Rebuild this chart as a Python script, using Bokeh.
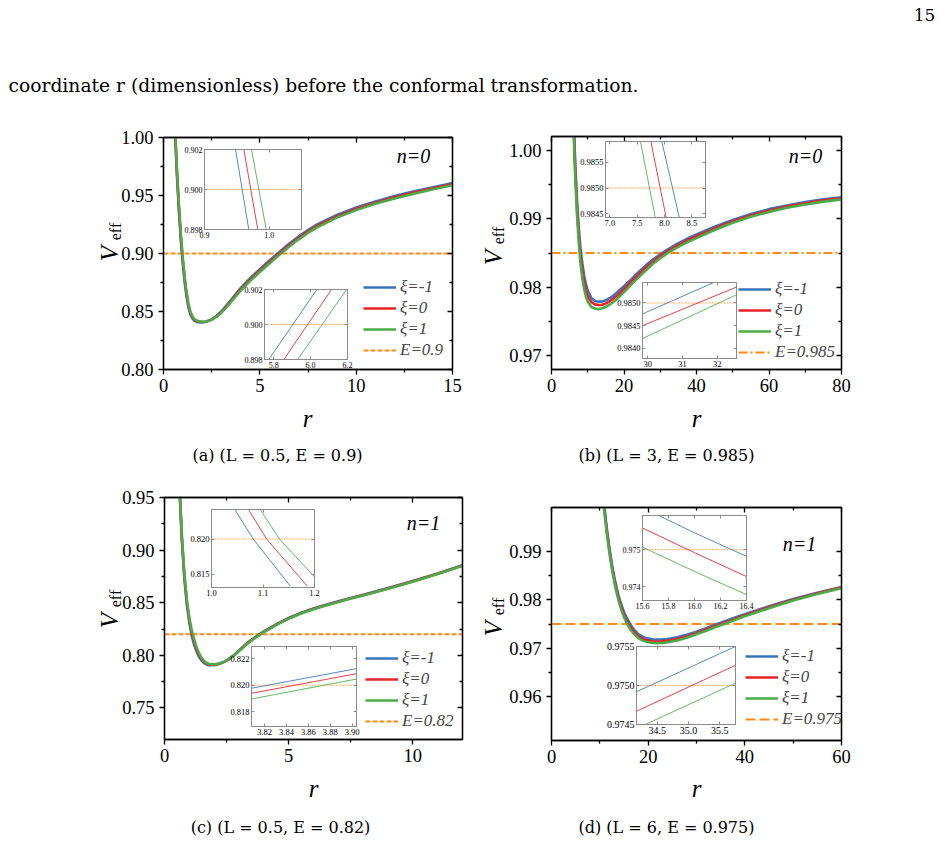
from bokeh.models import (Range1d, FixedTicker, LinearAxis, Legend, LegendItem,
                          Label, Column, PrintfTickFormatter)
from bokeh.plotting import figure
from bokeh.embed import file_html
from bokeh.resources import INLINE
import math

PAGE_W, PAGE_H = 944, 842
SERIF = "Liberation Serif"
BODY_FONT = "DejaVu Serif"
BLUE, RED, GREEN, ORANGE = "#3874b8", "#e8202a", "#4aab48", "#ff8a17"
XI_LABELS = ["ξ=-1", "ξ=0", "ξ=1"]
# every figure in the column shares the same side borders
BORDER_L, BORDER_R = 60, 20

# ---------------- (a) L = 0.5, E = 0.9, n = 0 ----------------
E_a = 0.9
r_a = [0.55, 0.60, 0.70, 0.80, 0.90, 1.00, 1.10, 1.20, 1.30, 1.40, 1.50, 1.60, 1.80,
       2.00, 2.20, 2.50, 2.75, 3.00, 3.25, 3.50, 3.75, 4.00, 4.50, 5.00, 5.50, 6.00,
       6.50, 7.00, 7.50, 8.00, 9.00, 10.0, 11.0, 12.0, 13.0, 14.0, 15.0]
V_a_xi0 = [1.0260, 1.0055, 0.9695, 0.9395, 0.9143, 0.8942, 0.8775, 0.8645, 0.8548, 0.8485,
           0.8450, 0.8428, 0.8412, 0.8409, 0.8412, 0.8430, 0.8457, 0.8494, 0.8541, 0.8590,
           0.8641, 0.8690, 0.8775, 0.8852, 0.8926, 0.8998, 0.9068, 0.9132, 0.9189, 0.9240,
           0.9320, 0.9385, 0.9438, 0.9484, 0.9525, 0.9562, 0.9597]
V_a_xim1 = [1.0230, 1.0025, 0.9666, 0.9367, 0.9116, 0.8916, 0.8751, 0.8624, 0.8531, 0.8472,
            0.8440, 0.8420, 0.8407, 0.8406, 0.8411, 0.8432, 0.8461, 0.8500, 0.8549, 0.8599,
            0.8651, 0.8701, 0.8787, 0.8865, 0.8939, 0.9011, 0.9081, 0.9145, 0.9202, 0.9253,
            0.9332, 0.9397, 0.9449, 0.9495, 0.9536, 0.9572, 0.9607]
V_a_xi1 = [1.0288, 1.0083, 0.9723, 0.9422, 0.9169, 0.8967, 0.8798, 0.8665, 0.8564, 0.8497,
           0.8459, 0.8435, 0.8417, 0.8412, 0.8413, 0.8428, 0.8453, 0.8488, 0.8533, 0.8581,
           0.8631, 0.8679, 0.8764, 0.8840, 0.8914, 0.8986, 0.9056, 0.9120, 0.9177, 0.9228,
           0.9309, 0.9374, 0.9428, 0.9474, 0.9515, 0.9553, 0.9588]
# zoom near the inner crossing of E
a1_V = [0.902, 0.898]
a1_r_xim1 = [0.9480, 0.9685]
a1_r_xi0 = [0.9608, 0.9824]
a1_r_xi1 = [0.9727, 0.9954]
# zoom near the outer crossing of E
a2_V = [0.898, 0.902]
a2_r_xim1 = [5.773, 6.034]
a2_r_xi0 = [5.855, 6.113]
a2_r_xi1 = [5.930, 6.195]

# ---------------- (b) L = 3, E = 0.985, n = 0 ----------------
E_b = 0.985
r_b = [5.8, 6.0, 6.5, 7.0, 7.5, 8.0, 8.5, 9.0, 9.5, 10, 11, 12, 13, 14, 15, 16, 17, 18,
       20, 22, 24, 26, 28, 30, 32, 34, 36, 38, 40, 45, 50, 55, 60, 65, 70, 75, 80]
V_b_xi0 = [1.00900, 1.00540, 0.99770, 0.99195, 0.98770, 0.98453, 0.98240, 0.98075, 0.97955,
           0.97870, 0.97782, 0.97750, 0.97740, 0.97745, 0.97765, 0.97795, 0.97832, 0.97875,
           0.97975, 0.98080, 0.98185, 0.98285, 0.98375, 0.98455, 0.98525, 0.98588, 0.98645,
           0.98697, 0.98745, 0.98860, 0.98962, 0.99048, 0.99120, 0.99178, 0.99227, 0.99268,
           0.99300]
V_b_xim1 = [1.01010, 1.00650, 0.99880, 0.99305, 0.98880, 0.98563, 0.98350, 0.98175, 0.98045,
            0.97950, 0.97842, 0.97800, 0.97790, 0.97790, 0.97810, 0.97840, 0.97877, 0.97920,
            0.98015, 0.98115, 0.98220, 0.98320, 0.98405, 0.98482, 0.98550, 0.98613, 0.98670,
            0.98722, 0.98770, 0.98882, 0.98982, 0.99068, 0.99140, 0.99193, 0.99242, 0.99283,
            0.99312]
V_b_xi1 = [1.00790, 1.00430, 0.99660, 0.99085, 0.98660, 0.98343, 0.98130, 0.97975, 0.97865,
           0.97790, 0.97712, 0.97690, 0.97680, 0.97695, 0.97715, 0.97745, 0.97782, 0.97825,
           0.97930, 0.98040, 0.98145, 0.98245, 0.98342, 0.98425, 0.98498, 0.98561, 0.98618,
           0.98670, 0.98718, 0.98836, 0.98942, 0.99028, 0.99100, 0.99160, 0.99209, 0.99250,
           0.99282]
b1_V = [0.98590, 0.98443]
b1_r_xim1 = [7.95, 8.27]
b1_r_xi0 = [7.75, 8.03]
b1_r_xi1 = [7.56, 7.83]
b2_r = [29.85, 32.55]
b2_V_xim1 = [0.98476, 0.98567]
b2_V_xi0 = [0.98450, 0.98535]
b2_V_xi1 = [0.98422, 0.98518]

# ---------------- (c) L = 0.5, E = 0.82, n = 1 ----------------
E_c = 0.82
r_c = [0.55, 0.60, 0.70, 0.80, 0.90, 1.00, 1.10, 1.20, 1.30, 1.40, 1.50, 1.60, 1.70, 1.80,
       1.90, 2.00, 2.20, 2.40, 2.60, 2.80, 3.00, 3.20, 3.40, 3.60, 3.85, 4.00, 4.50, 5.00,
       5.50, 6.00, 6.50, 7.00, 7.50, 8.00, 9.00, 10.0, 11.0, 12.0]
V_c_xi0 = [0.9880, 0.9615, 0.9115, 0.8755, 0.8505, 0.8335, 0.8209, 0.8121, 0.8052, 0.8000,
           0.7962, 0.7936, 0.7920, 0.7912, 0.7910, 0.7911, 0.7920, 0.7938, 0.7965, 0.8000,
           0.8044, 0.8086, 0.8126, 0.8161, 0.8201, 0.8224, 0.8291, 0.8352, 0.8401, 0.8442,
           0.8477, 0.8510, 0.8542, 0.8572, 0.8636, 0.8703, 0.8775, 0.8854]
V_c_xim1 = [0.9854, 0.9589, 0.9089, 0.8729, 0.8479, 0.8309, 0.8183, 0.8095, 0.8030, 0.7982,
            0.7948, 0.7925, 0.7911, 0.7905, 0.7905, 0.7907, 0.7918, 0.7938, 0.7966, 0.8002,
            0.8047, 0.8090, 0.8130, 0.8165, 0.8205, 0.8228, 0.8295, 0.8356, 0.8405, 0.8446,
            0.8480, 0.8513, 0.8545, 0.8575, 0.8639, 0.8706, 0.8778, 0.8857]
V_c_xi1 = [0.9905, 0.9640, 0.9140, 0.8780, 0.8530, 0.8360, 0.8234, 0.8146, 0.8072, 0.8016,
           0.7974, 0.7945, 0.7927, 0.7917, 0.7914, 0.7914, 0.7921, 0.7938, 0.7964, 0.7998,
           0.8041, 0.8082, 0.8122, 0.8157, 0.8197, 0.8220, 0.8287, 0.8348, 0.8397, 0.8438,
           0.8474, 0.8507, 0.8539, 0.8569, 0.8633, 0.8700, 0.8772, 0.8851]
c1_r_xim1 = [1.046, 1.081, 1.153]
c1_r_xi0 = [1.0725, 1.107, 1.186]
c1_r_xi1 = [1.0955, 1.132, 1.200]
c1_V_xim1 = [0.8241, 0.8200, 0.8133]
c1_V_xi0 = [0.8241, 0.8200, 0.8133]
c1_V_xi1 = [0.8241, 0.8200, 0.8146]
c2_r = [3.808, 3.904]
c2_V_xim1 = [0.81977, 0.82124]
c2_V_xi0 = [0.81939, 0.82086]
c2_V_xi1 = [0.81896, 0.82046]

# ---------------- (d) L = 6, E = 0.975, n = 1 ----------------
E_d = 0.975
r_d = [10.5, 11, 11.5, 12, 12.5, 13, 13.5, 14, 14.5, 15, 15.5, 16, 16.4, 17, 18, 19, 20,
       21, 22, 23, 24, 26, 28, 30, 32, 34, 36, 38, 40, 45, 50, 55, 60]
V_d_xi0 = [1.00300, 0.99801, 0.99371, 0.99001, 0.98681, 0.98406, 0.98181, 0.97986, 0.97826,
           0.97691, 0.97581, 0.97492, 0.97427, 0.97343, 0.97243, 0.97188, 0.97158, 0.97145,
           0.97141, 0.97143, 0.97155, 0.97190, 0.97245, 0.97312, 0.97385, 0.97462, 0.97537,
           0.97610, 0.97680, 0.97846, 0.97998, 0.98132, 0.98250]
V_d_xim1 = [1.00355, 0.99856, 0.99426, 0.99056, 0.98736, 0.98461, 0.98236, 0.98041, 0.97881,
            0.97746, 0.97636, 0.97547, 0.97482, 0.97393, 0.97288, 0.97228, 0.97198, 0.97185,
            0.97181, 0.97183, 0.97190, 0.97225, 0.97280, 0.97342, 0.97415, 0.97489, 0.97562,
            0.97632, 0.97702, 0.97866, 0.98013, 0.98144, 0.98262]
V_d_xi1 = [1.00250, 0.99751, 0.99321, 0.98951, 0.98631, 0.98356, 0.98131, 0.97936, 0.97776,
           0.97641, 0.97531, 0.97442, 0.97377, 0.97298, 0.97203, 0.97153, 0.97123, 0.97110,
           0.97106, 0.97108, 0.97125, 0.97160, 0.97215, 0.97287, 0.97360, 0.97437, 0.97512,
           0.97588, 0.97658, 0.97826, 0.97983, 0.98120, 0.98238]
d1_r_xim1 = [15.73, 16.00, 16.40]
d1_V_xim1 = [0.97592, 0.97546, 0.97482]
d1_r = [15.60, 16.00, 16.40]
d1_V_xi0 = [0.97559, 0.97492, 0.97427]
d1_V_xi1 = [0.97507, 0.97441, 0.97378]
d2_r = [34.17, 35.75]
d2_r_xi1 = [34.31, 35.75]
d2_V_xim1 = [0.97492, 0.97550]
d2_V_xi0 = [0.97467, 0.97526]
d2_V_xi1 = [0.97450, 0.97503]


def place(fig, left, top):
    fig.styles = {"position": "absolute", "left": f"{left}px", "top": f"{top}px"}


def midpoints(ticks):
    return [(a + b) / 2 for a, b in zip(ticks[:-1], ticks[1:])]


def style_axis(ax, ticks, fmt, size, tick_in, tick_out, standoff, color="black", width=1.3,
               minor_len=0):
    ax.ticker = FixedTicker(ticks=ticks, minor_ticks=midpoints(ticks) if minor_len else [])
    ax.formatter = PrintfTickFormatter(format=fmt)
    ax.major_tick_in = tick_in
    ax.major_tick_out = tick_out
    ax.minor_tick_in = minor_len if tick_in else 0
    ax.minor_tick_out = minor_len if tick_out else 0
    ax.axis_line_color = color
    ax.axis_line_width = width
    ax.major_tick_line_color = color
    ax.major_tick_line_width = width
    ax.minor_tick_line_color = color
    ax.minor_tick_line_width = width
    ax.major_label_text_font = SERIF
    if size:
        ax.major_label_text_font_size = size
        ax.major_label_text_color = "black"
    else:
        # mirrored axis: ticks only
        ax.major_label_text_font_size = "1px"
        ax.major_label_text_color = None
    ax.major_label_standoff = standoff
    ax.axis_label = None


def main_panel(frame, xr, yr, xt, xfmt, yt, yfmt, r, curves, E, e_dash, e_label, leg_xy):
    fl, ft, fw, fh = frame
    MT, MB = 12, 40
    p = figure(frame_width=fw, frame_height=fh, x_range=Range1d(*xr), y_range=Range1d(*yr),
               min_border_left=BORDER_L, min_border_right=BORDER_R, min_border_top=MT,
               min_border_bottom=MB, output_backend="svg", toolbar_location=None)
    p.background_fill_alpha = 0
    p.border_fill_alpha = 0
    p.grid.visible = False
    p.outline_line_color = "black"
    p.outline_line_width = 1.3
    style_axis(p.xaxis[0], xt, xfmt, "18.5px", 0, 5, 4, minor_len=3)
    style_axis(p.yaxis[0], yt, yfmt, "18.5px", 0, 5, 5, minor_len=3)
    top_ax = LinearAxis()
    style_axis(top_ax, xt, xfmt, None, 5, 0, 0, minor_len=3)
    p.add_layout(top_ax, "above")
    right_ax = LinearAxis()
    style_axis(right_ax, yt, yfmt, None, 5, 0, 0, minor_len=3)
    p.add_layout(right_ax, "right")

    e_r = p.line([xr[0], xr[1]], [E, E], line_color=ORANGE, line_width=2, line_dash=e_dash)
    rends = []
    for v, c in zip(curves, [BLUE, RED, GREEN]):
        rends.append(p.line(r, v, line_color=c, line_width=2.6, line_join="round"))
    items = [LegendItem(label=lab, renderers=[rr]) for lab, rr in zip(XI_LABELS, rends)]
    items.append(LegendItem(label=e_label, renderers=[e_r]))
    leg = Legend(items=items, location=leg_xy, background_fill_alpha=0,
                 border_line_color=None, label_text_font=SERIF,
                 label_text_font_style="italic", label_text_font_size="17px",
                 glyph_width=33, glyph_height=20, label_height=20, spacing=1,
                 padding=0, margin=0, label_standoff=4)
    p.add_layout(leg)
    place(p, fl - BORDER_L, ft - MT)
    return p


def inset(frame, xr, yr, xt, xfmt, yt, yfmt, lines, E, fs="8.5px"):
    fl, ft, fw, fh = frame
    MT, MB = 4, 16
    p = figure(frame_width=fw, frame_height=fh, x_range=Range1d(*xr), y_range=Range1d(*yr),
               min_border_left=BORDER_L, min_border_right=BORDER_R, min_border_top=MT,
               min_border_bottom=MB, output_backend="svg", toolbar_location=None)
    p.background_fill_color = "white"
    p.border_fill_alpha = 0
    p.grid.visible = False
    gray = "#8a8a8a"
    p.outline_line_color = gray
    p.outline_line_width = 1
    style_axis(p.xaxis[0], xt, xfmt, fs, 3, 0, 2, color=gray, width=1)
    style_axis(p.yaxis[0], yt, yfmt, fs, 3, 0, 2, color=gray, width=1)
    top_ax = LinearAxis()
    style_axis(top_ax, xt, xfmt, None, 3, 0, 0, color=gray, width=1)
    p.add_layout(top_ax, "above")
    right_ax = LinearAxis()
    style_axis(right_ax, yt, yfmt, None, 3, 0, 0, color=gray, width=1)
    p.add_layout(right_ax, "right")
    p.line([xr[0], xr[1]], [E, E], line_color="#ffab5e", line_width=1, line_dash="2 1")
    for (x, y), c in zip(lines, [BLUE, RED, GREEN]):
        p.line(x, y, line_color=c, line_width=1, line_alpha=0.85)
    place(p, fl - BORDER_L, ft - MT)
    return p


def text_layer(x0, x1, y0, y1):
    """A bare figure whose frame covers page pixels x0..x1, y0..y1 (data = page pixels)."""
    f = figure(frame_width=x1 - x0, frame_height=y1 - y0, x_range=Range1d(x0, x1),
               y_range=Range1d(y1, y0), min_border_left=BORDER_L,
               min_border_right=BORDER_R, min_border_top=0, min_border_bottom=0,
               output_backend="svg", toolbar_location=None)
    f.axis.visible = False
    f.grid.visible = False
    f.outline_line_color = None
    f.background_fill_alpha = 0
    f.border_fill_alpha = 0
    place(f, x0 - BORDER_L, y0)
    return f


page = text_layer(8, 872, 0, PAGE_H)
corner = text_layer(880, 940, 0, 30)


def txt(fig, x, y, s, size, font=SERIF, style="normal", align="center", angle=0.0):
    fig.add_layout(Label(x=x, y=y, text=s, text_font=font, text_font_size=size,
                         text_font_style=style, text_align=align,
                         text_baseline="middle", angle=angle, text_color="black"))


txt(corner, 924, 14, "15", "17px", font=BODY_FONT)
txt(page, 8, 85, "coordinate r (dimensionless) before the conformal transformation.",
    "18.7px", font=BODY_FONT, align="left")
txt(page, 277, 455, "(a) (L = 0.5, E = 0.9)", "16px", font=BODY_FONT)
txt(page, 666, 455, "(b) (L = 3, E = 0.985)", "16px", font=BODY_FONT)
txt(page, 280, 827, "(c) (L = 0.5, E = 0.82)", "16px", font=BODY_FONT)
txt(page, 666, 827, "(d) (L = 6, E = 0.975)", "16px", font=BODY_FONT)

for (rx, ry), (vx, vy), (ex, ey) in [((307, 418), (109, 253), (115, 231)),
                                     ((696, 418), (493, 257), (498, 235)),
                                     ((313, 788), (109, 620), (115, 598)),
                                     ((696, 788), (493, 628), (498, 606))]:
    txt(page, rx, ry, "r", "25px", style="italic")
    txt(page, vx, vy, "V", "25px", style="italic", angle=math.pi / 2)
    txt(page, ex, ey, "eff", "16px", angle=math.pi / 2)

txt(page, 413, 155, "n=0", "20px", style="italic")
txt(page, 805, 155, "n=0", "20px", style="italic")
txt(page, 423, 522, "n=1", "20px", style="italic")
txt(page, 799, 543, "n=1", "20px", style="italic")

# ---------------- panels ----------------
pa = main_panel((163, 137, 289, 232), (0, 15), (0.80, 1.00), [0, 5, 10, 15], "%d",
                [0.80, 0.85, 0.90, 0.95, 1.00], "%.2f", r_a, [V_a_xim1, V_a_xi0, V_a_xi1],
                E_a, "5 2", f"E={E_a}", (200, 9))
pb = main_panel((551, 136, 290, 233), (0, 80), (0.968, 1.002), [0, 20, 40, 60, 80], "%d",
                [0.97, 0.98, 0.99, 1.00], "%.2f", r_b, [V_b_xim1, V_b_xi0, V_b_xi1],
                E_b, "9 3 2 3", f"E={E_b}", (187, 7))
pc = main_panel((164, 497, 298, 242), (0, 12), (0.72, 0.95), [0, 5, 10], "%d",
                [0.75, 0.80, 0.85, 0.90, 0.95], "%.2f", r_c, [V_c_xim1, V_c_xi0, V_c_xi1],
                E_c, "5 2", f"E={E_c}", (201, 8))
pd = main_panel((551, 507, 290, 233), (0, 60), (0.951, 0.999), [0, 20, 40, 60], "%d",
                [0.96, 0.97, 0.98, 0.99], "%.2f", r_d, [V_d_xim1, V_d_xi0, V_d_xi1],
                E_d, "10 4", f"E={E_d}", (194, 11))

ia1 = inset((204, 149, 97, 80), (0.9, 1.05), (0.898, 0.902), [0.9, 1.0], "%.1f",
            [0.898, 0.900, 0.902], "%.3f",
            [(a1_r_xim1, a1_V), (a1_r_xi0, a1_V), (a1_r_xi1, a1_V)], E_a, "8px")
ia2 = inset((264, 289, 83, 70), (5.75, 6.2), (0.898, 0.902), [5.8, 6.0, 6.2], "%.1f",
            [0.898, 0.900, 0.902], "%.3f",
            [(a2_r_xim1, a2_V), (a2_r_xi0, a2_V), (a2_r_xi1, a2_V)], E_a, "8px")
ib1 = inset((605, 141, 100, 76), (6.92, 8.75), (0.98443, 0.98590), [7.0, 7.5, 8.0, 8.5],
            "%.1f", [0.9845, 0.9850, 0.9855], "%.4f",
            [(b1_r_xim1, b1_V), (b1_r_xi0, b1_V), (b1_r_xi1, b1_V)], E_b)
ib2 = inset((642, 282, 94, 76), (29.85, 32.55), (0.98378, 0.98545), [30, 31, 32], "%d",
            [0.9840, 0.9845, 0.9850], "%.4f",
            [(b2_r, b2_V_xim1), (b2_r, b2_V_xi0), (b2_r, b2_V_xi1)], E_b)
ic1 = inset((211, 509, 103, 78), (1.0, 1.2), (0.8131, 0.8242), [1.0, 1.1, 1.2], "%.1f",
            [0.815, 0.820], "%.3f",
            [(c1_r_xim1, c1_V_xim1), (c1_r_xi0, c1_V_xi0), (c1_r_xi1, c1_V_xi1)], E_c)
ic2 = inset((251, 646, 105, 80), (3.808, 3.904), (0.8169, 0.8229),
            [3.82, 3.84, 3.86, 3.88, 3.90], "%.2f", [0.818, 0.820, 0.822], "%.3f",
            [(c2_r, c2_V_xim1), (c2_r, c2_V_xi0), (c2_r, c2_V_xi1)], E_c)
id1 = inset((642, 515, 104, 85), (15.6, 16.4), (0.97362, 0.97593),
            [15.6, 15.8, 16.0, 16.2, 16.4], "%.1f", [0.974, 0.975], "%.3f",
            [(d1_r_xim1, d1_V_xim1), (d1_r, d1_V_xi0), (d1_r, d1_V_xi1)], E_d, "8px")
id2 = inset((636, 646, 99, 78), (34.17, 35.75), (0.9745, 0.9755), [34.5, 35.0, 35.5], "%.1f",
            [0.9745, 0.9750, 0.9755], "%.4f",
            [(d2_r, d2_V_xim1), (d2_r, d2_V_xi0), (d2_r_xi1, d2_V_xi1)], E_d, "10px")

root = Column(children=[page, corner, pa, pb, pc, pd, ia1, ia2, ib1, ib2, ic1, ic2, id1, id2],
              width=PAGE_W, height=PAGE_H,
              styles={"position": "relative", "overflow": "hidden",
                      "background-color": "white"})

open("out.html", "w").write(file_html(root, INLINE))
